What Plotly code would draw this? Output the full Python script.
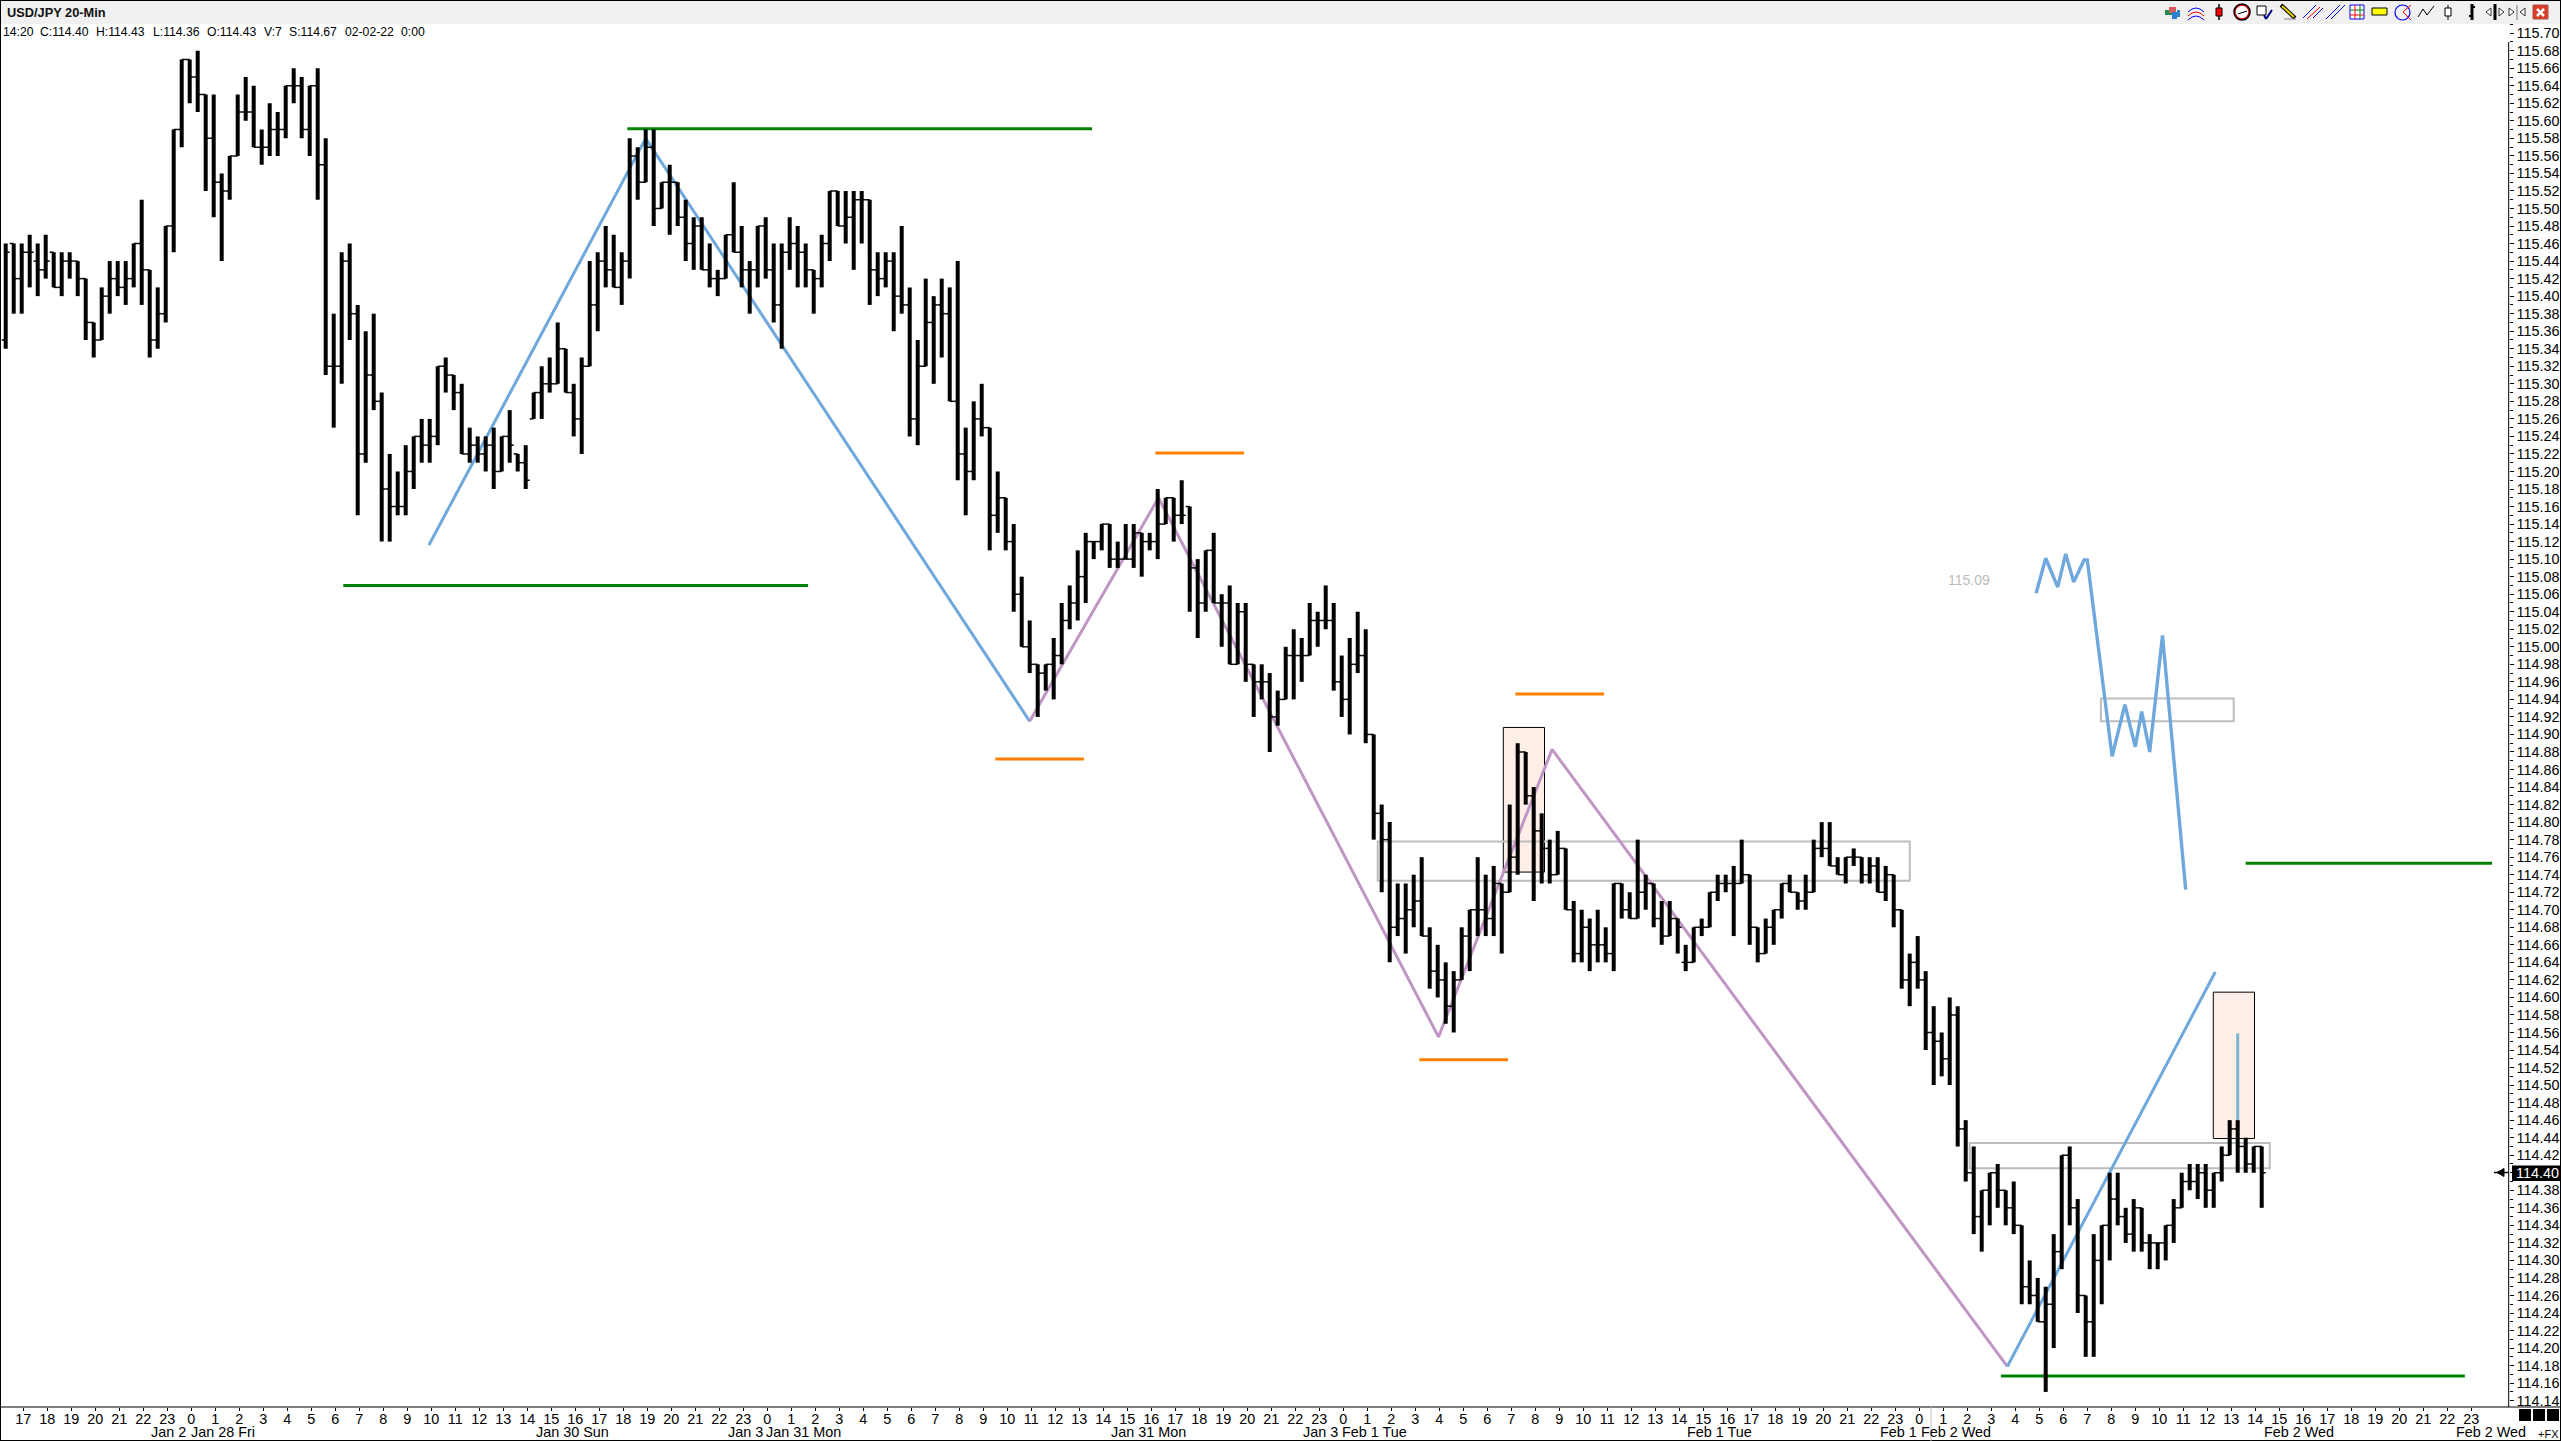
import numpy as np
import plotly.graph_objects as go

W, H = 2561, 1441

high = [
115.46,115.46,115.46,115.47,115.46,115.47,115.45,115.45,115.45,115.44,
115.42,115.37,115.41,115.44,115.44,115.44,115.46,115.51,115.43,115.41,
115.48,115.59,115.67,115.67,115.68,115.63,115.63,115.54,115.56,115.63,
115.65,115.64,115.59,115.62,115.61,115.64,115.66,115.65,115.64,115.66,
115.58,115.38,115.45,115.46,115.39,115.36,115.38,115.29,115.22,115.20,
115.23,115.24,115.26,115.26,115.32,115.33,115.31,115.30,115.25,115.24,
115.24,115.25,115.24,115.27,115.22,115.23,115.29,115.32,115.33,115.37,
115.34,115.30,115.33,115.44,115.45,115.48,115.47,115.45,115.58,115.57,
115.59,115.59,115.53,115.55,115.53,115.51,115.49,115.49,115.46,115.43,
115.47,115.53,115.48,115.44,115.48,115.49,115.46,115.46,115.49,115.48,
115.46,115.43,115.47,115.52,115.52,115.52,115.52,115.52,115.51,115.45,
115.45,115.45,115.48,115.41,115.35,115.42,115.40,115.42,115.41,115.44,
115.25,115.28,115.30,115.25,115.20,115.17,115.14,115.08,115.03,114.98,
114.98,115.01,115.05,115.07,115.11,115.13,115.12,115.14,115.14,115.12,
115.14,115.14,115.13,115.13,115.18,115.17,115.17,115.19,115.16,115.10,
115.11,115.13,115.06,115.07,115.05,115.05,114.98,114.98,114.97,114.95,
115.00,115.02,115.01,115.05,115.04,115.07,115.05,114.99,115.01,115.04,
115.02,114.90,114.82,114.80,114.73,114.73,114.74,114.76,114.68,114.66,
114.64,114.63,114.68,114.70,114.76,114.74,114.75,114.73,114.82,114.89,
114.88,114.84,114.81,114.78,114.79,114.77,114.71,114.70,114.69,114.70,
114.68,114.73,114.73,114.72,114.78,114.74,114.73,114.71,114.71,114.69,
114.66,114.68,114.69,114.72,114.74,114.74,114.75,114.78,114.74,114.68,
114.69,114.70,114.73,114.74,114.72,114.74,114.78,114.80,114.80,114.76,
114.76,114.77,114.76,114.76,114.76,114.75,114.74,114.70,114.65,114.67,
114.63,114.59,114.56,114.60,114.59,114.46,114.43,114.38,114.40,114.41,
114.38,114.39,114.34,114.30,114.28,114.27,114.33,114.42,114.43,114.37,
114.26,114.33,114.34,114.40,114.40,114.36,114.37,114.36,114.33,114.32,
114.34,114.37,114.40,114.41,114.41,114.41,114.40,114.43,114.46,114.46,
114.44,114.43,114.43]

low = [
115.34,115.38,115.38,115.41,115.40,115.42,115.41,115.40,115.42,115.40,
115.35,115.33,115.35,115.38,115.40,115.39,115.41,115.39,115.33,115.34,
115.37,115.45,115.57,115.62,115.61,115.52,115.49,115.44,115.51,115.56,
115.60,115.57,115.55,115.56,115.56,115.58,115.62,115.58,115.56,115.51,
115.31,115.25,115.30,115.35,115.15,115.21,115.27,115.12,115.12,115.15,
115.15,115.18,115.21,115.21,115.23,115.29,115.27,115.22,115.21,115.21,
115.20,115.18,115.20,115.21,115.20,115.18,115.26,115.26,115.29,115.30,
115.29,115.24,115.22,115.32,115.36,115.41,115.41,115.39,115.42,115.51,
115.53,115.48,115.50,115.47,115.48,115.44,115.43,115.43,115.41,115.40,
115.42,115.45,115.41,115.38,115.41,115.42,115.37,115.34,115.43,115.41,
115.41,115.38,115.41,115.44,115.48,115.46,115.43,115.46,115.39,115.40,
115.41,115.36,115.38,115.24,115.23,115.32,115.30,115.33,115.28,115.19,
115.15,115.19,115.24,115.11,115.13,115.11,115.04,115.00,114.97,114.92,
114.95,114.94,114.98,115.02,115.03,115.05,115.10,115.11,115.09,115.09,
115.10,115.09,115.08,115.11,115.10,115.14,115.12,115.14,115.04,115.01,
115.04,115.05,115.00,114.98,114.98,114.96,114.92,114.94,114.88,114.91,
114.94,114.94,114.96,114.99,115.00,115.02,114.95,114.92,114.90,114.97,
114.89,114.78,114.72,114.64,114.67,114.65,114.68,114.67,114.61,114.60,
114.57,114.56,114.62,114.63,114.67,114.67,114.67,114.65,114.72,114.74,
114.82,114.71,114.73,114.73,114.74,114.70,114.64,114.64,114.63,114.64,
114.64,114.63,114.69,114.69,114.69,114.70,114.68,114.66,114.67,114.65,
114.63,114.64,114.67,114.68,114.71,114.72,114.67,114.73,114.66,114.64,
114.65,114.66,114.69,114.72,114.70,114.70,114.72,114.76,114.75,114.74,
114.73,114.75,114.73,114.73,114.72,114.71,114.68,114.61,114.59,114.61,
114.54,114.50,114.51,114.50,114.43,114.39,114.33,114.31,114.34,114.36,
114.34,114.33,114.25,114.25,114.23,114.15,114.20,114.29,114.34,114.24,
114.19,114.19,114.25,114.30,114.34,114.32,114.31,114.31,114.29,114.29,
114.30,114.32,114.36,114.38,114.37,114.36,114.36,114.39,114.42,114.40,
114.40,114.40,114.36]

open_ = [
115.35,115.46,115.42,115.45,115.44,115.43,115.45,115.41,115.44,115.44,
115.42,115.37,115.35,115.40,115.42,115.41,115.42,115.46,115.43,115.35,
115.38,115.48,115.59,115.67,115.65,115.63,115.58,115.53,115.52,115.56,
115.61,115.61,115.57,115.57,115.59,115.59,115.64,115.64,115.59,115.64,
115.55,115.32,115.32,115.44,115.38,115.22,115.31,115.28,115.18,115.16,
115.16,115.20,115.24,115.23,115.24,115.32,115.31,115.29,115.22,115.23,
115.22,115.23,115.20,115.24,115.22,115.21,115.26,115.29,115.30,115.30,
115.34,115.29,115.26,115.32,115.39,115.44,115.43,115.41,115.44,115.56,
115.53,115.57,115.50,115.53,115.53,115.49,115.46,115.48,115.43,115.42,
115.42,115.47,115.45,115.43,115.43,115.48,115.43,115.39,115.45,115.46,
115.45,115.43,115.42,115.46,115.52,115.48,115.49,115.51,115.51,115.43,
115.42,115.44,115.40,115.39,115.26,115.32,115.37,115.39,115.38,115.28,
115.22,115.20,115.26,115.25,115.15,115.17,115.12,115.06,115.00,114.98,
114.97,114.98,114.99,115.03,115.05,115.08,115.12,115.12,115.14,115.10,
115.10,115.10,115.13,115.12,115.12,115.14,115.17,115.15,115.16,115.09,
115.05,115.11,115.05,115.05,114.98,115.04,114.98,114.96,114.96,114.92,
114.94,114.99,114.99,114.99,115.03,115.03,115.03,114.96,114.94,114.98,
114.99,114.90,114.81,114.78,114.68,114.69,114.70,114.71,114.67,114.63,
114.62,114.59,114.62,114.67,114.70,114.70,114.69,114.73,114.72,114.76,
114.88,114.83,114.79,114.77,114.74,114.77,114.70,114.65,114.68,114.66,
114.66,114.65,114.73,114.70,114.69,114.72,114.73,114.69,114.67,114.69,
114.64,114.64,114.68,114.68,114.72,114.73,114.73,114.73,114.74,114.68,
114.65,114.68,114.70,114.73,114.72,114.71,114.72,114.77,114.77,114.75,
114.74,114.76,114.76,114.74,114.75,114.72,114.74,114.70,114.62,114.64,
114.62,114.56,114.55,114.53,114.58,114.45,114.40,114.35,114.38,114.40,
114.38,114.36,114.34,114.27,114.26,114.23,114.25,114.31,114.42,114.36,
114.26,114.23,114.30,114.34,114.37,114.35,114.33,114.36,114.32,114.32,
114.32,114.34,114.36,114.39,114.39,114.40,114.38,114.40,114.42,114.45,
114.43,114.41,114.43]

close = [
115.45,115.42,115.45,115.45,115.43,115.44,115.41,115.44,115.44,115.42,
115.37,115.35,115.40,115.42,115.41,115.42,115.46,115.43,115.35,115.38,
115.48,115.59,115.67,115.65,115.63,115.58,115.53,115.52,115.56,115.61,
115.61,115.57,115.57,115.59,115.59,115.64,115.64,115.59,115.64,115.55,
115.32,115.32,115.44,115.38,115.22,115.31,115.28,115.18,115.16,115.16,
115.20,115.24,115.23,115.24,115.32,115.31,115.29,115.22,115.23,115.22,
115.23,115.20,115.24,115.23,115.21,115.19,115.29,115.30,115.30,115.34,
115.29,115.26,115.32,115.39,115.44,115.43,115.41,115.44,115.56,115.53,
115.57,115.50,115.53,115.53,115.49,115.46,115.48,115.43,115.42,115.42,
115.47,115.45,115.43,115.43,115.48,115.43,115.39,115.45,115.46,115.45,
115.43,115.42,115.46,115.52,115.48,115.49,115.51,115.51,115.43,115.42,
115.44,115.40,115.39,115.26,115.32,115.37,115.39,115.38,115.28,115.22,
115.20,115.26,115.25,115.15,115.17,115.12,115.06,115.00,114.98,114.97,
114.98,114.99,115.03,115.05,115.08,115.12,115.12,115.14,115.10,115.10,
115.10,115.13,115.12,115.12,115.14,115.17,115.15,115.15,115.09,115.05,
115.11,115.05,115.05,114.98,115.04,114.98,114.96,114.96,114.92,114.94,
114.99,114.99,114.99,115.03,115.03,115.03,114.96,114.94,114.98,114.99,
114.90,114.81,114.78,114.68,114.69,114.70,114.71,114.67,114.63,114.62,
114.59,114.62,114.67,114.70,114.70,114.69,114.73,114.72,114.76,114.88,
114.83,114.79,114.77,114.74,114.77,114.70,114.65,114.68,114.66,114.66,
114.65,114.73,114.70,114.69,114.72,114.73,114.69,114.67,114.69,114.68,
114.64,114.68,114.68,114.72,114.73,114.73,114.73,114.74,114.68,114.65,
114.68,114.70,114.73,114.72,114.71,114.72,114.77,114.77,114.75,114.74,
114.76,114.76,114.74,114.75,114.72,114.74,114.70,114.62,114.64,114.62,
114.56,114.55,114.53,114.58,114.45,114.40,114.35,114.38,114.40,114.38,
114.36,114.34,114.27,114.26,114.23,114.25,114.31,114.42,114.36,114.26,
114.23,114.30,114.34,114.37,114.35,114.33,114.36,114.32,114.32,114.32,
114.34,114.36,114.39,114.39,114.40,114.38,114.40,114.42,114.45,114.43,
114.41,114.43,114.40]

assert len(high) == len(low) == len(open_) == len(close) == 283

hour_labels = [
"17","18","19","20","21","22","23","0","1","2","3","4","5","6","7","8","9","10","11","12","13","14","15","16",
"17","18","19","20","21","22","23","0","1","2","3","4","5","6","7","8","9","10","11","12","13","14","15","16",
"17","18","19","20","21","22","23","0","1","2","3","4","5","6","7","8","9","10","11","12","13","14","15","16",
"17","18","19","20","21","22","23","0","1","2","3","4","5","6","7","8","9","10","11","12","13","14","15","16",
"17","18","19","20","21","22","23"]

date_labels = ["Jan 2", "Jan 28 Fri", "Jan 30 Sun", "Jan 3", "Jan 31 Mon", "Jan 31 Mon", "Jan 3",
               "Feb 1 Tue", "Feb 1 Tue", "Feb 1", "Feb 2 Wed", "Feb 2 Wed", "Feb 2 Wed"]
date_px = [150, 190, 535, 727, 765, 1110, 1302, 1341, 1686, 1879, 1920, 2263, 2455]

# swing lines: (bar position, price)
blue_1_x = [52.9, 80.0, 128.0];  blue_1_y = [115.116, 115.58, 114.915]
purple_x = [128.0, 144.1, 179.1, 193.3, 250.2]
purple_y = [114.915, 115.17, 114.555, 114.883, 114.179]
blue_2_x = [250.2, 276.2];  blue_2_y = [114.179, 114.629]
proj_x = [253.8, 255.0, 256.5, 257.5, 258.5, 259.8, 260.2, 263.3, 264.9, 266.2, 267.0, 268.0, 269.6, 272.5]
proj_y = [115.061, 115.101, 115.068, 115.106, 115.074, 115.099, 115.099, 114.875, 114.934, 114.886, 114.926, 114.880, 115.013, 114.723]
teal_x = [279.0, 279.0];  teal_y = [114.559, 114.46]

green_levels = [(77.7, 135.8, 115.591), (42.2, 100.3, 115.07), (280.0, 310.8, 114.753), (249.4, 307.4, 114.168)]
orange_levels = [(143.7, 154.8, 115.221), (123.7, 134.8, 114.872), (188.7, 199.8, 114.946), (176.7, 187.8, 114.529)]
gray_boxes = [(171.5, 238.0, 114.733, 114.778), (245.5, 283.0, 114.405, 114.434), (261.9, 278.5, 114.915, 114.941)]
peach_boxes = [(187.2, 192.35, 114.743, 114.908), (275.95, 281.1, 114.439, 114.606)]

# axis geometry
FONT = "Liberation Sans"
PX_PER_BAR = 8.0
BAR0_PX = 5.7
AX_RIGHT = 2508.7
AX_TOP, AX_BOTTOM = 24.0, 1407.0
PX_PER_PRICE = 876.6
P_REF, P_REF_Y = 115.68, 50.7
x_range = [(0 - BAR0_PX) / PX_PER_BAR, (AX_RIGHT - BAR0_PX) / PX_PER_BAR]
y_range = [P_REF - (AX_BOTTOM - P_REF_Y) / PX_PER_PRICE, P_REF + (P_REF_Y - AX_TOP) / PX_PER_PRICE]


def X(p):
    return p / W


def Y(p):
    return 1 - p / H


fig = go.Figure()

for xs, ys, col, wd in [(blue_1_x, blue_1_y, "#6fa8dc", 3), (purple_x, purple_y, "#c195c4", 3),
                        (blue_2_x, blue_2_y, "#6fa8dc", 3), (proj_x, proj_y, "#6fa8dc", 3.4),
                        (teal_x, teal_y, "#7ab6cf", 3)]:
    fig.add_trace(go.Scatter(x=xs, y=ys, mode="lines", line=dict(color=col, width=wd), hoverinfo="skip"))

for lvls, col in [(green_levels, "#008000"), (orange_levels, "#ff8000")]:
    for x0, x1, p in lvls:
        fig.add_trace(go.Scatter(x=[x0, x1], y=[p, p], mode="lines", line=dict(color=col, width=3), hoverinfo="skip"))

n = len(high)
idx = np.arange(n, dtype=float)
nan = np.full(n, np.nan)
stem_x = np.column_stack([idx, idx, nan]).ravel()
stem_y = np.column_stack([high, low, nan]).ravel()
fig.add_trace(go.Scatter(x=stem_x, y=stem_y, mode="lines", line=dict(color="#000000", width=4), hoverinfo="skip"))
tw = 0.5
tick_x = np.column_stack([idx - tw, idx, nan, idx, idx + tw, nan]).ravel()
tick_y = np.column_stack([open_, open_, nan, close, close, nan]).ravel()
fig.add_trace(go.Scatter(x=tick_x, y=tick_y, mode="lines", line=dict(color="#000000", width=1.5), hoverinfo="skip"))

shapes = []
for x0, x1, y0, y1 in peach_boxes:
    shapes.append(dict(type="rect", xref="x", yref="y", x0=x0, x1=x1, y0=y0, y1=y1, layer="below",
                       fillcolor="#fdefe7", line=dict(color="#000000", width=1)))
for x0, x1, y0, y1 in gray_boxes:
    shapes.append(dict(type="rect", xref="x", yref="y", x0=x0, x1=x1, y0=y0, y1=y1, layer="below",
                       fillcolor="rgba(0,0,0,0)", line=dict(color="#bdbdbd", width=2)))


def prect(x0, y0, x1, y1, fill=None, line=None, lw=1):
    shapes.append(dict(type="rect", xref="paper", yref="paper", x0=X(x0), x1=X(x1), y0=Y(y0), y1=Y(y1),
                       fillcolor=fill or "rgba(0,0,0,0)", line=dict(color=line or "rgba(0,0,0,0)", width=lw if line else 0)))


def pline(x0, y0, x1, y1, col="#000000", lw=1):
    shapes.append(dict(type="line", xref="paper", yref="paper", x0=X(x0), x1=X(x1), y0=Y(y0), y1=Y(y1),
                       line=dict(color=col, width=lw)))


def pcirc(x0, y0, x1, y1, line, lw=1, fill=None):
    shapes.append(dict(type="circle", xref="paper", yref="paper", x0=X(x0), x1=X(x1), y0=Y(y0), y1=Y(y1),
                       fillcolor=fill or "rgba(0,0,0,0)", line=dict(color=line, width=lw)))


# chrome
prect(0, 0, W, 24, fill="#f0f0f0")
pline(0, 0.5, W, 0.5)
pline(0.5, 0, 0.5, H)
pline(W - 0.5, 0, W - 0.5, H)
pline(0, H - 0.5, W, H - 0.5)
pline(0, AX_BOTTOM, W, AX_BOTTOM)
pline(AX_RIGHT, 42, AX_RIGHT, AX_BOTTOM)
pline(1931, AX_BOTTOM, 1931, H, col="#c4c4c4")
for x0 in (2519, 2533, 2547):
    prect(x0, 1409, x0 + 12, 1421, fill="#000000")
# last-price marker
prect(2512, 1165.5, 2560, 1181, fill="#000000")
pline(2494, 1172.5, 2508, 1172.5, lw=1.5)
shapes.append(dict(type="path", xref="paper", yref="paper", fillcolor="#000000", line=dict(color="#000000", width=1),
                   path=f"M {X(2497)} {Y(1172.5)} L {X(2504)} {Y(1168.5)} L {X(2504)} {Y(1176.5)} Z"))

# toolbar icons
prect(2165, 10, 2172, 15, fill="#1f8a4c")
prect(2169, 7, 2176, 13, fill="#d85a5a")
prect(2172, 12, 2177, 19, fill="#2a7fd0")
prect(2177, 10, 2180, 17, fill="#2a7fd0")
for dy, c in ((0, "#0000ff"), (4, "#ff0000"), (8, "#0000ff")):
    shapes.append(dict(type="path", xref="paper", yref="paper", line=dict(color=c, width=1),
                       path=f"M {X(2188)} {Y(12 + dy)} Q {X(2196)} {Y(4 + dy)} {X(2204)} {Y(12 + dy)}"))
pline(2219, 4, 2219, 20, lw=1.5)
prect(2216, 8, 2222, 16, fill="#ff0000", line="#000000")
pcirc(2235, 5, 2249, 19, "#ff0000", 1.5, fill="#ffffff")
pcirc(2234, 4, 2250, 20, "#000000", 1.5)
pline(2238, 14, 2247, 11, lw=1)
prect(2257, 6, 2266, 15, fill="#ffffff", line="#000000")
pline(2264, 15, 2266, 19, "#000080", 2)
pline(2266, 19, 2272, 10, "#000080", 2)
pline(2281, 5, 2295, 18, "#000000", 4)
pline(2282, 6, 2294, 17, "#e8d800", 2)
pline(2284, 19, 2296, 19, "#888888", 1)
pline(2303, 18, 2316, 5, "#0000ff")
pline(2307, 19, 2320, 7, "#ff0000")
pline(2313, 18, 2323, 8, "#0000ff")
pline(2326, 19, 2340, 5, "#0000ff")
pline(2331, 19, 2345, 5, "#0000ff")
prect(2350, 5, 2364, 19, fill="#ffffff", line="#0000ff")
pline(2350, 10, 2364, 10, "#008000")
pline(2350, 15, 2364, 15, "#ff0000")
pline(2355, 5, 2355, 19, "#ff0000")
pline(2360, 5, 2360, 19, "#008000")
prect(2372, 8, 2387, 15, fill="#ffff00", line="#000000")
pcirc(2395, 5, 2410, 20, "#0000ff", 1.2)
pline(2403, 12, 2411, 5, "#ff0000")
pline(2403, 12, 2411, 20, "#ff0000")
pline(2418, 17, 2423, 9, "#000000")
pline(2423, 9, 2427, 15, "#000000")
pline(2427, 15, 2434, 6, "#000000")
pline(2448, 5, 2448, 20)
prect(2445, 8, 2451, 16, fill="#ffffff", line="#000000")
pline(2472, 4, 2472, 20, lw=3)
pline(2469, 16, 2472, 16, lw=2)
pline(2472, 7, 2475, 7, lw=2)
pline(2495, 4, 2495, 20, lw=3)
for px, d in ((2491, -1), (2499, 1)):
    shapes.append(dict(type="path", xref="paper", yref="paper", line=dict(color="#333333", width=1),
                       fillcolor="#ffffff",
                       path=f"M {X(px + 5 * d)} {Y(12)} L {X(px)} {Y(8)} L {X(px)} {Y(16)} Z"))
pline(2517, 5, 2517, 20, "#777777")
for px, d in ((2514, 1), (2520, -1)):
    shapes.append(dict(type="path", xref="paper", yref="paper", line=dict(color="#333333", width=1),
                       fillcolor="#ffffff",
                       path=f"M {X(px - 5 * d)} {Y(8)} L {X(px)} {Y(12)} L {X(px - 5 * d)} {Y(16)} Z"))
prect(2533, 5, 2548, 19, fill="#d8402a", line="#b05040")
pline(2537, 9, 2544, 16, "#ffffff", 2.5)
pline(2544, 9, 2537, 16, "#ffffff", 2.5)

annotations = []


def label(text, px, py, size=14.4, color="#000000", bold=False, anchor="left"):
    annotations.append(dict(text=f"<b>{text}</b>" if bold else text, xref="paper", yref="paper", x=X(px), y=Y(py),
                            xanchor=anchor, yanchor="middle", showarrow=False, align="left",
                            font=dict(family=FONT, size=size, color=color), borderpad=0))


label("USD/JPY 20-Min", 6, 12, size=12.8, bold=True, color="#111111")
info_texts = ["14:20", "C:114.40", "H:114.43", "L:114.36", "O:114.43", "V:7", "S:114.67", "02-02-22", "0:00"]
info_px = [2, 39, 95, 152, 206, 263, 288, 344, 400]
for t, p in zip(info_texts, info_px):
    label(t, p, 32, size=12.2)
for t, p in zip(date_labels, date_px):
    label(t, p, 1432)
label("+FX", 2537, 1434, size=11)
label("114.40", 2515, 1173, size=14.4, color="#ffffff")
label("115.09", 1947, 580, size=14, color="#bbbbbb")

tick_positions = [(23.3 - BAR0_PX) / PX_PER_BAR + 3 * k for k in range(len(hour_labels))]

fig.update_layout(
    width=W, height=H, margin=dict(l=0, r=0, t=0, b=0, pad=0, autoexpand=False),
    paper_bgcolor="#ffffff", plot_bgcolor="rgba(0,0,0,0)", showlegend=False,
    shapes=shapes, annotations=annotations, hovermode=False,
    xaxis=dict(domain=[0, AX_RIGHT / W], range=x_range, showgrid=False, zeroline=False, showline=False,
               tickmode="array", tickvals=tick_positions, ticktext=hour_labels, tickangle=0,
               ticks="outside", ticklen=3, tickcolor="#000000", tickwidth=1, ticklabelstandoff=-4,
               tickfont=dict(family=FONT, size=14.4, color="#000000"), automargin=False),
    yaxis=dict(domain=[(H - AX_BOTTOM) / H, (H - AX_TOP) / H], range=y_range, side="right",
               showgrid=False, zeroline=False, showline=False, tick0=114.0, dtick=0.02, tickformat=".2f",
               ticks="outside", ticklen=4, tickcolor="#000000", tickwidth=1,
               minor=dict(tick0=114.0, dtick=0.01, ticks="outside", ticklen=3, tickcolor="#000000", tickwidth=1),
               tickfont=dict(family=FONT, size=14.4, color="#000000"), automargin=False),
)

fig.write_html("out.html", config=dict(displayModeBar=False),
               post_script="document.body.style.margin='0';document.body.style.overflow='hidden';")
